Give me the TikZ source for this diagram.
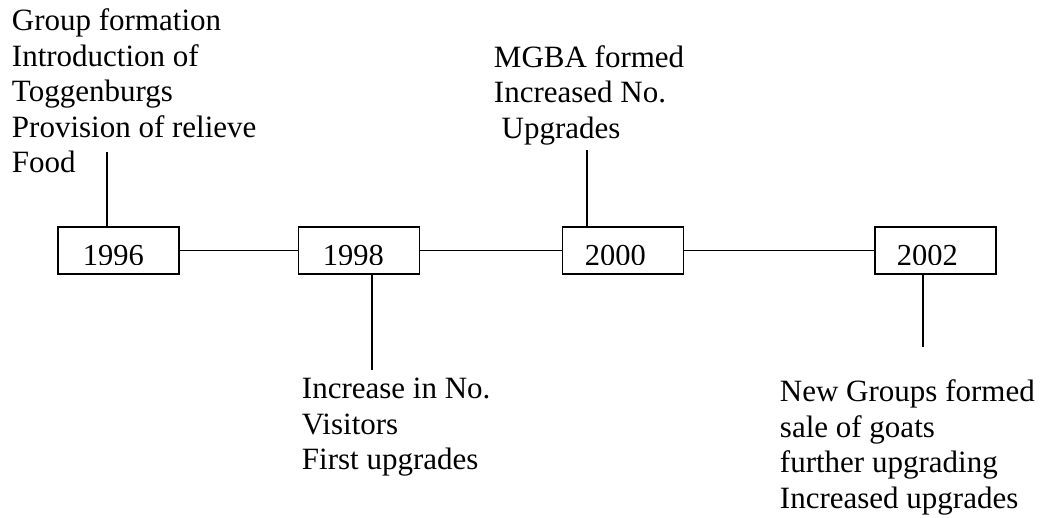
\documentclass[tikz,border=0pt]{standalone}
\usepackage{fontspec}
\setmainfont{Liberation Serif}
\begin{document}
\begin{tikzpicture}[x=1pt,y=-1pt,
  line width=1.9pt,
  yearbox/.style={draw, rectangle, minimum width=121pt, minimum height=47pt, inner sep=0pt},
  yeartext/.style={anchor=base west, inner sep=0pt, font=\fontsize{30.5}{35.5}\selectfont},
  note/.style={anchor=base west, inner sep=0pt, align=left, font=\fontsize{31}{35.5}\selectfont}]
\useasboundingbox (0,0) rectangle (1043,518);
% boxes
\node[yearbox] (b96) at (118.5,250.5) {};
\node[yearbox] (b98) at (359,250.5) {};
\node[yearbox] (b00) at (623,250.5) {};
\node[yearbox] (b02) at (935.5,250.5) {};
% year texts (clipped at bottom as in the reference)
\begin{scope}
\clip (50,228) rectangle (1000,264.5);
\node[yeartext] (t96) at (82,266) {1996};
\node[yeartext] (t98) at (322,266) {1998};
\node[yeartext] (t00) at (584,266) {2000};
\node[yeartext] (t02) at (896,266) {2002};
\end{scope}
% horizontal connectors
\draw (b96.east) -- (b98.west);
\draw (b98.east) -- (b00.west);
\draw (b00.east) -- (b02.west);
% vertical stems
\coordinate (s96) at (107,152);
\coordinate (s98) at (372,370);
\coordinate (s00) at (587,150);
\coordinate (s02) at (923,347);
\draw (s96) -- (s96 |- b96.north);
\draw (s98) -- (s98 |- b98.south);
\draw (s00) -- (s00 |- b00.north);
\draw (s02) -- (s02 |- b02.south);
% notes (base = baseline of the last line)
\node[note] (n96) at (11,173) {Group formation\\Introduction of\\Toggenburgs\\Provision of relieve\\Food};
\node[note] (n00) at (493,138.5) {MGBA formed\\Increased No.\\\ Upgrades};
\node[note] (n98) at (301,469.5) {Increase in No.\\Visitors\\First upgrades};
\node[note] (n02) at (779,508) {New Groups formed\\sale of goats\\further upgrading\\Increased upgrades};
\end{tikzpicture}
\end{document}
